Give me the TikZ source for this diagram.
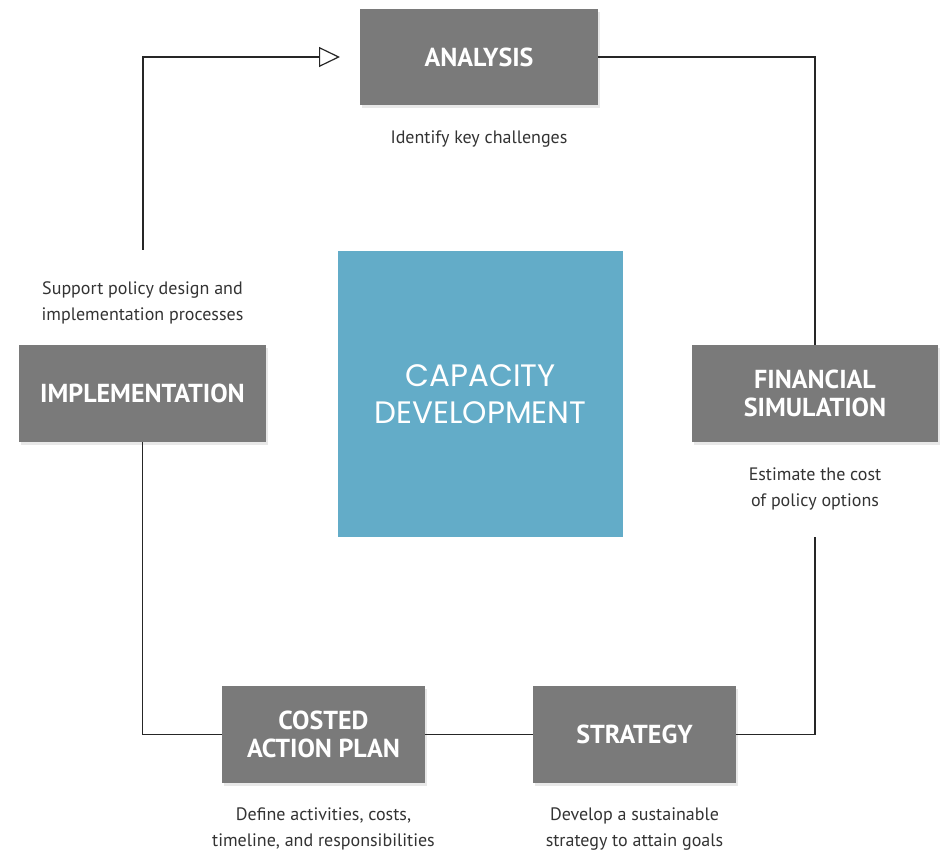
\documentclass[tikz,border=0pt]{standalone}
\usepackage{fontspec}
\setmainfont{PT Sans}
\newfontfamily\thinfont{Poppins}
\usetikzlibrary{arrows.meta,shadows}
\definecolor{stepgray}{HTML}{7A7A7A}
\definecolor{capblue}{HTML}{63ACC8}
\definecolor{notegray}{HTML}{333333}
\begin{document}
\begin{tikzpicture}[x=1pt,y=-1pt,
    stagebox/.style={fill=stepgray, text=white, font=\fontsize{26}{28}\selectfont\bfseries,
        align=center, inner sep=0pt,
        drop shadow={opacity=0.18, shadow xshift=2pt, shadow yshift=-3pt}},
    note/.style={text=notegray, font=\fontsize{18}{26}\selectfont, align=center},
    cycle/.style={line width=1.2pt, black!85}]
    \useasboundingbox (0,0) rectangle (946,853);
    % stages
    \node (analysis) [stagebox, minimum width=238pt, minimum height=96pt] at (479,57) {ANALYSIS};
    \node (finsim) [stagebox, minimum width=246pt, minimum height=97pt] at (815,393.5) {FINANCIAL\\SIMULATION};
    \node (strategy) [stagebox, minimum width=203pt, minimum height=97pt] at (634.5,734.5) {STRATEGY};
    \node (costed) [stagebox, minimum width=203pt, minimum height=97pt] at (323.5,734.5) {COSTED\\ACTION PLAN};
    \node (implem) [stagebox, minimum width=247pt, minimum height=97pt] at (142.5,393.5) {IMPLEMENTATION};
    % centre
    \node (capdev) [fill=capblue, text=white, minimum size=285pt, inner sep=0pt,
        font=\thinfont\fontsize{31}{37}\selectfont, align=center] at (480.5,394) {CAPACITY\\DEVELOPMENT};
    % notes
    \node (analysisnote) [note] at (479,139) {Identify key challenges};
    \node (finsimnote) [note] at (815,488.5) {Estimate the cost\\of policy options};
    \node (strategynote) [note] at (634.5,829) {Develop a sustainable\\strategy to attain goals};
    \node (costednote) [note] at (323.5,829) {Define activities, costs,\\timeline, and responsibilities};
    \node (implemnote) [note] at (142.5,303) {Support policy design and\\implementation processes};
    % connectors
    \coordinate (finsimout) at (815,537);
    \coordinate (implemout) at (143,250);
    \coordinate (arrowtip) at (340,57);
    \draw [cycle] (analysis.east) -| (finsim.north);
    \draw [cycle] (finsimout) |- (strategy.east);
    \draw [cycle] (strategy.west) -- (costed.east);
    \draw [cycle] (costed.west) -| (implem.south);
    \draw [cycle, -{Triangle[open, length=21pt, width=20pt]}] (implemout) |- (arrowtip);
\end{tikzpicture}
\end{document}
